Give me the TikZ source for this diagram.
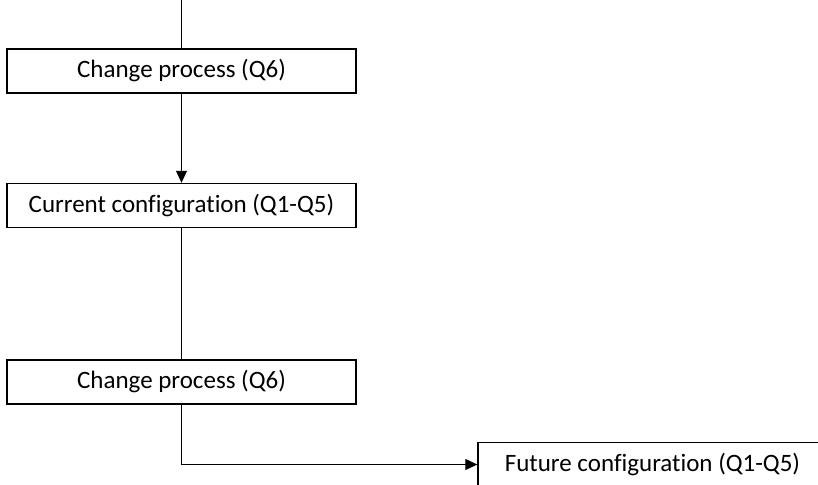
\documentclass[tikz,border=0pt]{standalone}
\usepackage{fontspec}
\setmainfont[Ligatures={NoCommon}]{Carlito}
\usetikzlibrary{arrows.meta}
\begin{document}
\begin{tikzpicture}[x=1pt,y=1pt,
  box/.style={draw=black,line width=1.4pt,minimum width=349pt,minimum height=44pt,inner sep=0pt,font=\fontsize{25}{29}\selectfont},
  conn/.style={draw=black,line width=1pt},
  tip/.style={-{Triangle[length=12pt,width=11pt]}}]
\useasboundingbox (0,0) rectangle (818,484);
\clip (0,0) rectangle (818,484);
\node[box] (b1) at (181.5,413) {Change process (Q6)};
\node[box] (b2) at (181.5,278.5) {Current configuration (Q1-Q5)};
\node[box] (b3) at (181.5,102) {Change process (Q6)};
\node[box] (b4) at (652.5,19.5) {Future configuration (Q1-Q5)};
\coordinate (top) at (b1.north |- 0,484);
\draw[conn] (top) -- (b1.north);
\draw[conn,tip] (b1.south) -- (b2.north);
\draw[conn] (b2.south) -- (b3.north);
\draw[conn,tip] (b3.south) |- (b4.west);
\end{tikzpicture}
\end{document}
